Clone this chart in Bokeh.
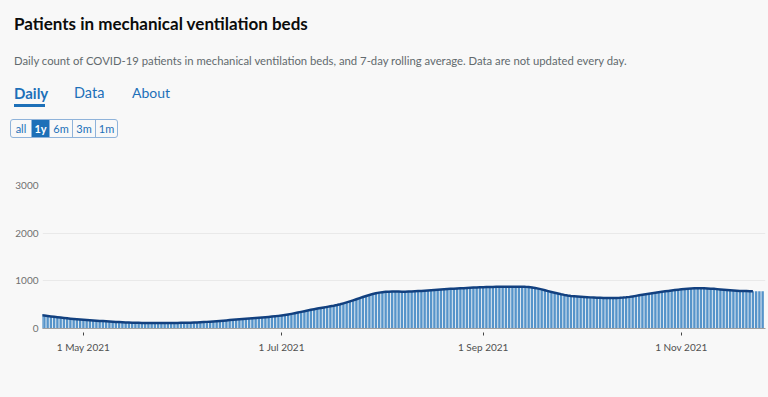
import pandas as pd
from bokeh.plotting import figure
from bokeh.models import (Div, FixedTicker, DatetimeTickFormatter, Range1d,
                          GlobalInlineStyleSheet, ColumnDataSource)
from bokeh.layouts import column
from bokeh.embed import file_html
from bokeh.resources import INLINE

# ---------------- data (daily counts) ----------------
first_day = "2021-04-15"
apr = [305, 296, 288, 279, 270, 262, 253, 245, 236, 228, 220, 212, 206, 200, 194, 189]
may = [184, 179, 174, 168, 164, 159, 155, 151, 147, 142,
       137, 133, 130, 127, 124, 122, 120, 118, 117, 117,
       116, 116, 115, 115, 116, 116, 115, 116, 117, 117, 118]
jun = [119, 120, 122, 124, 127, 130, 134, 138, 143, 148,
       153, 158, 164, 170, 176, 182, 188, 194, 199, 205,
       211, 217, 222, 227, 232, 237, 243, 249, 255, 262]
jul = [270, 281, 293, 306, 319, 333, 348, 363, 379, 395,
       407, 418, 430, 441, 452, 464, 478, 492, 506, 520,
       542, 565, 590, 615, 638, 661, 684, 707, 727, 746, 763]
aug = [770, 776, 779, 778, 775, 772, 770, 771, 773, 775,
       778, 783, 788, 793, 799, 804, 809, 814, 819, 825,
       829, 833, 836, 839, 842, 846, 850, 854, 858, 862, 866]
sep = [868, 870, 872, 873, 874, 875, 876, 876, 877, 877,
       877, 876, 876, 875, 875, 874, 860, 842, 822, 803,
       783, 763, 745, 729, 715, 703, 691, 680, 672, 665]
oct_ = [663, 661, 659, 652, 648, 645, 643, 641, 640, 639,
        638, 638, 638, 642, 650, 661, 673, 685, 696, 707,
        717, 728, 738, 749, 759, 769, 780, 790, 799, 808, 816]
nov = [824, 831, 837, 842, 846, 848, 848, 846, 842, 838,
       833, 827, 821, 814, 807, 800, 794, 790, 787, 785,
       784, 783, 783, 782, 781, 781]

y_ticks = [0, 1000, 2000, 3000]
x_tick_dates = ["2021-05-01", "2021-07-01", "2021-09-01", "2021-11-01"]

title_text = "Patients in mechanical ventilation beds"
subtitle_text = ("Daily count of COVID-19 patients in mechanical ventilation beds, "
                 "and 7-day rolling average. Data are not updated every day.")
tabs = ["Daily", "Data", "About"]
ranges = ["all", "1y", "6m", "3m", "1m"]

daily = apr + may + jun + jul + aug + sep + oct_ + nov
dates = pd.date_range(first_day, periods=len(daily), freq="D")
avg = pd.Series(daily, dtype=float).rolling(7, center=True).mean()

bar_src = ColumnDataSource(dict(date=dates, value=daily))
mask = avg.notna().values
line_src = ColumnDataSource(dict(date=dates[mask], value=avg[mask].values))

# ---------------- colours / fonts ----------------
BG = "#f8f8f8"
BLUE = "#1d70b8"
FONT = "Lato"

# ---------------- header ----------------
btn_w = [20, 18, 23, 23, 22]
btns = ""
for i, (lab, w) in enumerate(zip(ranges, btn_w)):
    sel = lab == "1y"
    btns += ('<div style="width:%dpx;height:17px;line-height:17px;text-align:center;'
             '%s%s">%s</div>' % (
                 w,
                 "" if i == 0 else "border-left:1px solid #8fb3da;",
                 "background:%s;color:#fff;font-weight:700;" % BLUE if sel else "color:%s;" % BLUE,
                 lab))

header_html = f"""
<div style="position:relative;width:760px;height:140px;font-family:{FONT},sans-serif;">
  <div style="position:absolute;left:6px;top:6px;font-size:17px;line-height:20px;font-weight:700;color:#0b0c0c;white-space:nowrap;">{title_text}</div>
  <div style="position:absolute;left:6px;top:45px;font-size:11.3px;line-height:15px;color:#626a6e;white-space:nowrap;">{subtitle_text}</div>
  <div style="position:absolute;left:6px;top:76px;font-size:15px;line-height:18px;font-weight:700;color:{BLUE};">{tabs[0]}</div>
  <div style="position:absolute;left:6px;top:96px;width:31px;height:3px;background:{BLUE};"></div>
  <div style="position:absolute;left:66px;top:76px;font-size:14.5px;line-height:18px;color:{BLUE};">{tabs[1]}</div>
  <div style="position:absolute;left:124px;top:76px;font-size:14px;line-height:18px;color:{BLUE};">{tabs[2]}</div>
  <div style="position:absolute;left:2px;top:111px;display:flex;border:1px solid #8fb3da;border-radius:3px;overflow:hidden;font-size:11px;">{btns}</div>
</div>
"""
header = Div(text=header_html, width=760, height=140, margin=0)

footer_html = """
<div style="position:relative;width:760px;height:5px;border-top:1px solid #e8e8e8;">
  <div style="position:absolute;left:93px;top:0;width:1px;height:5px;background:#e3e3e3;"></div>
  <div style="position:absolute;left:177px;top:0;width:1px;height:5px;background:#e3e3e3;"></div>
</div>
"""
footer = Div(text=footer_html, width=760, height=5, margin=0)

# ---------------- chart ----------------
x_start = pd.Timestamp("2021-04-18 10:00")
x_end = pd.Timestamp("2021-11-26 21:00")

p = figure(width=760, height=244, x_axis_type="datetime",
           x_range=Range1d(x_start, x_end), y_range=Range1d(0, 3000),
           output_backend="svg", toolbar_location=None,
           min_border_left=34, min_border_right=3,
           min_border_top=37, min_border_bottom=64, margin=0)
p.background_fill_color = BG
p.border_fill_color = BG
p.outline_line_color = None

day_ms = 24 * 3600 * 1000
p.vbar(x="date", top="value", width=0.74 * day_ms, source=bar_src,
       fill_color="#5694ca", line_color=None)
p.line(x="date", y="value", source=line_src, line_color="#12407f",
       line_width=2.5, line_join="round")

p.xgrid.grid_line_color = None
p.ygrid.grid_line_color = "#e9e9e9"
p.yaxis.ticker = FixedTicker(ticks=y_ticks)
p.xaxis.ticker = FixedTicker(ticks=[pd.Timestamp(d).value / 1e6 for d in x_tick_dates])
fmt = "%-d %b %Y"
p.xaxis.formatter = DatetimeTickFormatter(days=fmt, months=fmt, years=fmt)

p.xaxis.axis_line_color = "#a0a0a0"
p.xaxis.major_tick_in = -4
p.xaxis.major_tick_out = 7
p.xaxis.major_tick_line_color = "#444444"
p.xaxis.minor_tick_line_color = None
p.xaxis.major_label_standoff = 5
p.xaxis.major_label_text_font = FONT
p.xaxis.major_label_text_font_size = "10px"
p.xaxis.major_label_text_color = "#505050"

p.yaxis.axis_line_color = None
p.yaxis.major_tick_line_color = None
p.yaxis.major_tick_in = 0
p.yaxis.major_tick_out = 0
p.yaxis.minor_tick_line_color = None
p.yaxis.major_label_standoff = 4
p.yaxis.major_label_text_font = FONT
p.yaxis.major_label_text_font_size = "10px"
p.yaxis.major_label_text_color = "#707070"

page_css = GlobalInlineStyleSheet(css="html,body{background:#f8f8f8;} body{margin:8px 0 0 8px;overflow:hidden;}")
layout = column(header, p, footer, spacing=0, stylesheets=[page_css])

open("out.html", "w").write(file_html(layout, INLINE))
